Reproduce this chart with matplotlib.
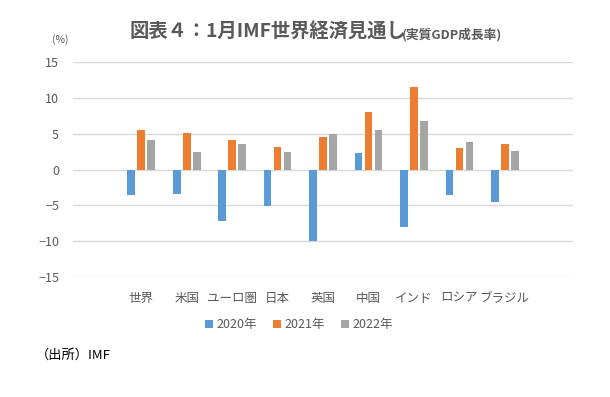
import numpy as np
import matplotlib.pyplot as plt

plt.rcParams['font.family'] = ['Noto Sans CJK JP', 'DejaVu Sans']

countries = ['世界', '米国', 'ユーロ圏', '日本', '英国', '中国', 'インド', 'ロシア', 'ブラジル']
years = ['2020年', '2021年', '2022年']
g2020 = [-3.5, -3.4, -7.2, -5.1, -10.0, 2.3, -8.0, -3.6, -4.5]
g2021 = [5.5, 5.1, 4.2, 3.1, 4.5, 8.1, 11.5, 3.0, 3.6]
g2022 = [4.2, 2.5, 3.6, 2.4, 5.0, 5.6, 6.8, 3.9, 2.6]
colors = ['#5B9BD5', '#ED7D31', '#A5A5A5']
text_col = '#595959'

fig = plt.figure(figsize=(6.1, 3.97), dpi=100)
ax = fig.add_axes([0.1197, 0.303, 0.8197, 0.540])

x = np.arange(len(countries))
step = 0.22
width = 0.17
for i, vals in enumerate([g2020, g2021, g2022]):
    ax.bar(x + (i - 1) * step, vals, width=width, color=colors[i],
           label=years[i], zorder=3)

ax.set_xlim(-1.5, len(countries) + 0.5)
ax.set_ylim(-15, 15)
ax.set_yticks(range(-15, 16, 5))
ax.set_xticks(x)
ax.set_xticklabels(countries, fontsize=8.3)
ax.grid(axis='y', color='#D9D9D9', lw=1, zorder=0)
for s in ax.spines.values():
    s.set_visible(False)
ax.tick_params(axis='both', length=0, colors=text_col, labelsize=9)
ax.tick_params(axis='x', pad=11)
ax.tick_params(axis='y', pad=10)

fig.text(0.098, 0.900, '(%)', fontsize=7.5, color=text_col, ha='center', va='center')
fig.text(0.213, 0.920, '図表４：1月IMF世界経済見通し', fontsize=13.9, fontweight='bold',
         color=text_col, ha='left', va='center')
fig.text(0.659, 0.913, '(実質GDP成長率)', fontsize=9.2, fontweight='bold',
         color=text_col, ha='left', va='center')

ax.legend(loc='center', bbox_to_anchor=(0.49, 0.182), bbox_transform=fig.transFigure,
          ncol=3, frameon=False, fontsize=9, handlelength=0.6, handleheight=0.6,
          handletextpad=0.3, columnspacing=1.3, labelcolor=text_col)

fig.text(0.058, 0.105, '（出所）IMF', fontsize=9.5, color='black', ha='left', va='center')

plt.savefig('out.png', dpi=100)
